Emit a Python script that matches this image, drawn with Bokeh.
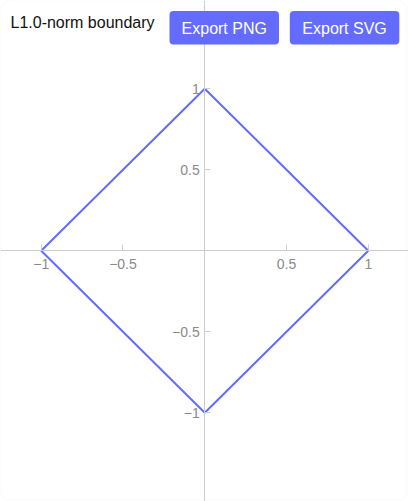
from bokeh.plotting import figure
from bokeh.models import Range1d, LinearAxis, FixedTicker, BoxAnnotation, Label
from bokeh.embed import file_html
from bokeh.resources import INLINE

# ---- data ----
title_text = "L1.0-norm boundary"
boundary_x = [1, 0, -1, 0, 1]
boundary_y = [0, 1, 0, -1, 0]
tick_values = [-1, -0.5, 0.5, 1]
tick_labels = ["\u22121", "\u22120.5", "0.5", "1"]
button_labels = ["Export PNG", "Export SVG"]

# ---- styling ----
W, H = 408, 501
ACCENT = "#646cff"
AXIS_COLOR = "#cccccc"
LABEL_COLOR = "#8a8a8a"
FONT = "Liberation Sans"

p = figure(width=W, height=H, output_backend="svg", toolbar_location=None,
           x_range=Range1d(-1.249, 1.246), y_range=Range1d(-1.548, 1.545),
           x_axis_location=None, y_axis_location=None, min_border=0,
           background_fill_color="white", border_fill_color="white")
p.outline_line_color = None
for g in p.grid:
    g.visible = False

overrides = {v: l for v, l in zip(tick_values, tick_labels)}

def make_axis(standoff):
    ax = LinearAxis(fixed_location=0, ticker=FixedTicker(ticks=tick_values),
                    major_label_overrides=overrides)
    ax.axis_line_color = AXIS_COLOR
    ax.axis_line_width = 1
    ax.major_tick_line_color = AXIS_COLOR
    ax.major_tick_in = 6
    ax.major_tick_out = 0
    ax.minor_tick_line_color = None
    ax.major_label_text_font = FONT
    ax.major_label_text_font_size = "14px"
    ax.major_label_text_color = LABEL_COLOR
    ax.major_label_standoff = standoff
    return ax

p.add_layout(make_axis(8), "below")
p.add_layout(make_axis(5), "left")

p.line(boundary_x, boundary_y, line_color=ACCENT, line_width=2)

# card border
p.add_layout(BoxAnnotation(left=0.5, right=W - 1.5, top=H - 0.5, bottom=1.5,
                           left_units="screen", right_units="screen",
                           top_units="screen", bottom_units="screen",
                           fill_alpha=0, line_color="#ececec", line_width=1,
                           border_radius=8))

# title
p.add_layout(Label(x=10, y=H - 22, x_units="screen", y_units="screen",
                   text=title_text, text_font=FONT, text_font_size="16px",
                   text_color="#111111", text_align="left",
                   text_baseline="alphabetic"))

# buttons
btn_lefts = [169, 289.3]
btn_width = 109.5
for left, lab in zip(btn_lefts, button_labels):
    p.add_layout(BoxAnnotation(left=left, right=left + btn_width,
                               top=H - 10.5, bottom=H - 44,
                               left_units="screen", right_units="screen",
                               top_units="screen", bottom_units="screen",
                               fill_color=ACCENT, fill_alpha=1.0,
                               line_color=None, border_radius=4))
    p.add_layout(Label(x=left + btn_width / 2, y=H - 27.8,
                       x_units="screen", y_units="screen", text=lab,
                       text_font=FONT, text_font_size="16px",
                       text_color="white", text_align="center",
                       text_baseline="alphabetic"))

open("out.html", "w").write(file_html(p, INLINE))
